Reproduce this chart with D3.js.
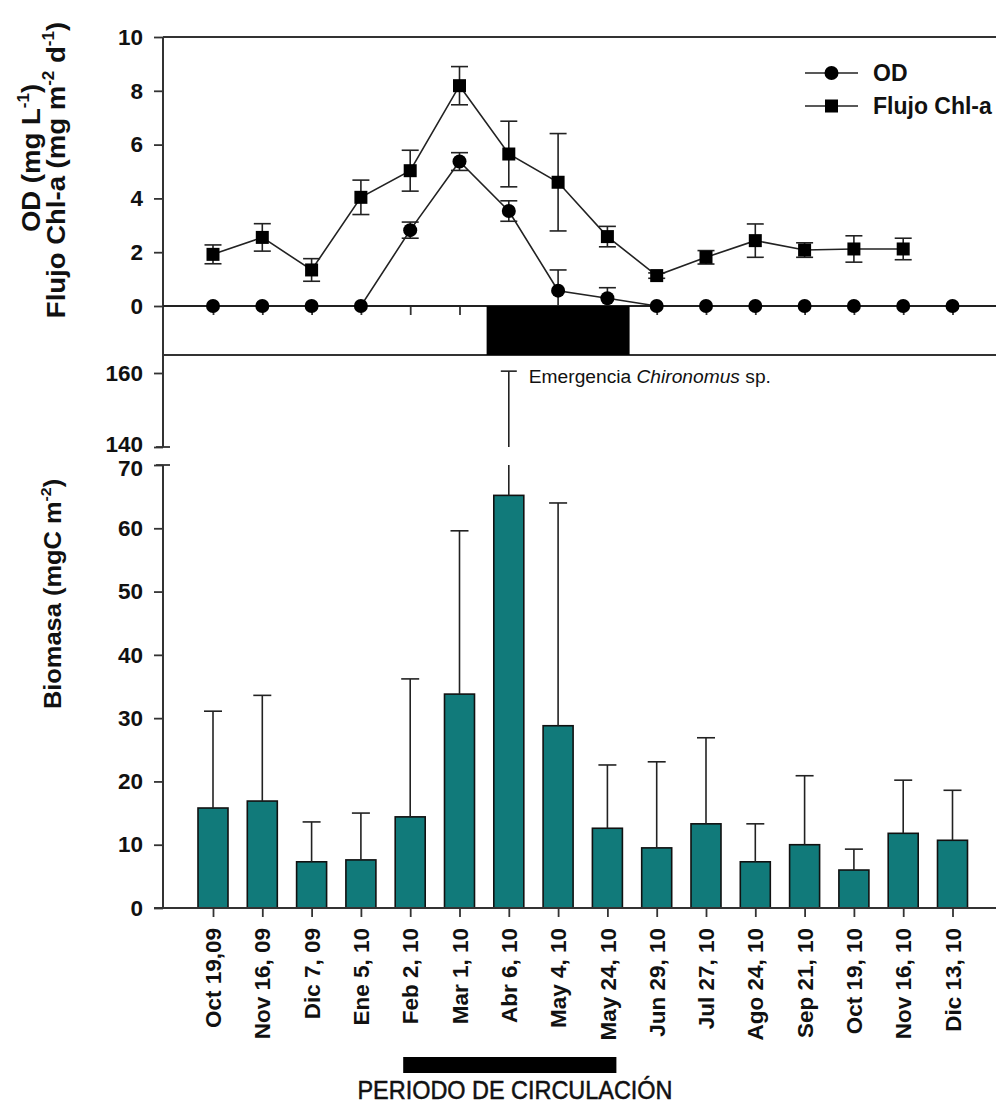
<!DOCTYPE html>
<html>
<head>
<meta charset="utf-8">
<script src="https://cdn.jsdelivr.net/npm/d3@7"></script>
<style>
  html, body { margin: 0; padding: 0; background: #fff; }
  svg { display: block; }
  text { font-family: "Liberation Sans", Arial, Helvetica, sans-serif; fill: #111; }
</style>
</head>
<body>
<svg id="chart" width="996" height="1103"></svg>
<script>
// Sampling dates
const categories = ["Oct 19,09", "Nov 16, 09", "Dic 7, 09", "Ene 5, 10", "Feb 2, 10", "Mar 1, 10",
  "Abr 6, 10", "May 4, 10", "May 24, 10", "Jun 29, 10", "Jul 27, 10", "Ago 24, 10",
  "Sep 21, 10", "Oct 19, 10", "Nov 16, 10", "Dic 13, 10"];

// Dissolved oxygen near the bottom (mg L-1), mean and SD
const odMean = [0, 0, 0, 0, 2.82, 5.37, 3.53, 0.57, 0.29, 0, 0, 0, 0, 0, 0, 0];
const odSD   = [0, 0, 0, 0, 0.30, 0.33, 0.38, 0.77, 0.39, 0, 0, 0, 0, 0, 0, 0];

// Chl-a sedimentation flux (mg m-2 d-1), mean and SD (no sample on the last date)
const chlMean = [1.92, 2.55, 1.34, 4.04, 5.03, 8.19, 5.65, 4.60, 2.58, 1.13, 1.81, 2.43, 2.08, 2.12, 2.12];
const chlSD   = [0.35, 0.51, 0.42, 0.64, 0.76, 0.71, 1.22, 1.81, 0.38, 0.10, 0.25, 0.62, 0.27, 0.49, 0.40];

// Benthic biomass (mgC m-2), mean and SD
const bioMean = [15.8, 16.9, 7.3, 7.6, 14.4, 33.8, 65.2, 28.8, 12.6, 9.5, 13.3, 7.3, 10.0, 6.0, 11.8, 10.7];
const bioSD   = [15.3, 16.7, 6.3, 7.4, 21.8, 25.8, 95.3, 35.2, 10.0, 13.6, 13.6, 6.0, 10.9, 3.3, 8.4, 7.9];

// Axis ticks
const topTicks = [0, 2, 4, 6, 8, 10];
const lowTicks = [0, 10, 20, 30, 40, 50, 60, 70];
const highTicks = [140, 160];

// Anoxic period (position in date index units) and circulation period
const anoxicSpan = [5.55, 8.45];
const circulationSpan = ["Feb 2, 10", "May 24, 10"];

const legendItems = [{ name: "OD", shape: "circle" }, { name: "Flujo Chl-a", shape: "square" }];

const svg = d3.select("#chart");
const W = 996;
const axisX = 163;
const ink = "#222";
const teal = "#117a7a";

// Shared horizontal scale
const x = d3.scalePoint().domain(categories).range([213, 952.5]);
const xi = d3.scaleLinear().domain([0, categories.length - 1]).range(x.range());

// ---------- Top panel ----------
const yT = d3.scaleLinear().domain([0, 10]).range([306, 37]);
const topBottom = 355;

const topG = svg.append("g");

// frame
topG.append("line").attr("x1", axisX).attr("x2", W).attr("y1", yT(10)).attr("y2", yT(10))
  .attr("stroke", "#333").attr("stroke-width", 2);
topG.append("line").attr("x1", axisX).attr("x2", W).attr("y1", topBottom).attr("y2", topBottom)
  .attr("stroke", "#333").attr("stroke-width", 2);

// y axis
const yAxisT = topG.append("g").attr("transform", `translate(${axisX},0)`)
  .call(d3.axisLeft(yT).tickValues(topTicks).tickSize(9).tickPadding(11).tickFormat(d3.format("d")));
yAxisT.select(".domain").remove();
yAxisT.append("line").attr("x1", 0).attr("x2", 0).attr("y1", yT(10)).attr("y2", topBottom)
  .attr("stroke", "#333").attr("stroke-width", 2);

// zero line with date ticks
const xAxisT = topG.append("g").attr("transform", `translate(0,${yT(0)})`)
  .call(d3.axisBottom(x).tickSize(9).tickFormat(""));
xAxisT.select(".domain").remove();
topG.append("line").attr("x1", axisX).attr("x2", W).attr("y1", yT(0)).attr("y2", yT(0))
  .attr("stroke", ink).attr("stroke-width", 1.8);

[yAxisT, xAxisT].forEach(a => {
  a.selectAll(".tick line").attr("stroke", "#333").attr("stroke-width", 1.8);
});
yAxisT.selectAll(".tick text").attr("font-size", 22.5).attr("font-weight", "bold").attr("fill", "#111")
  .attr("font-family", "'Liberation Sans', Arial, sans-serif");

// series lines
const chlPts = chlMean.map((v, i) => ({ x: x(categories[i]), v, sd: chlSD[i] }));
const odPts = odMean.map((v, i) => ({ x: x(categories[i]), v, sd: odSD[i] }));
const line = d3.line().x(d => d.x).y(d => yT(d.v));

topG.append("path").datum(chlPts).attr("d", line).attr("fill", "none").attr("stroke", ink).attr("stroke-width", 1.6);
topG.append("path").datum(odPts).attr("d", line).attr("fill", "none").attr("stroke", ink).attr("stroke-width", 1.6);

// error bars
function errBars(g, pts, cap) {
  const e = g.append("g").attr("stroke", ink).attr("stroke-width", 1.6);
  pts.filter(d => d.sd > 0).forEach(d => {
    e.append("line").attr("x1", d.x).attr("x2", d.x).attr("y1", yT(d.v - d.sd)).attr("y2", yT(d.v + d.sd));
    [d.v - d.sd, d.v + d.sd].forEach(b => {
      e.append("line").attr("x1", d.x - cap / 2).attr("x2", d.x + cap / 2).attr("y1", yT(b)).attr("y2", yT(b));
    });
  });
}
errBars(topG, chlPts, 17);
errBars(topG, odPts, 17);

// anoxic block below the zero line
topG.append("rect")
  .attr("x", xi(anoxicSpan[0])).attr("width", xi(anoxicSpan[1]) - xi(anoxicSpan[0]))
  .attr("y", yT(0)).attr("height", topBottom - yT(0))
  .attr("fill", "#000");

// markers
topG.append("g").selectAll("rect").data(chlPts).join("rect")
  .attr("x", d => d.x - 6.5).attr("y", d => yT(d.v) - 6.5).attr("width", 13).attr("height", 13)
  .attr("fill", "#000");
topG.append("g").selectAll("circle").data(odPts).join("circle")
  .attr("cx", d => d.x).attr("cy", d => yT(d.v)).attr("r", 7).attr("fill", "#000");

// legend
const lg = topG.append("g").attr("transform", "translate(805,73)");
legendItems.forEach((it, i) => {
  const g = lg.append("g").attr("transform", `translate(0,${i * 33})`);
  g.append("line").attr("x1", 0).attr("x2", 53).attr("stroke", ink).attr("stroke-width", 1.6);
  if (it.shape === "circle") g.append("circle").attr("cx", 26.5).attr("r", 7).attr("fill", "#000");
  else g.append("rect").attr("x", 20).attr("y", -6.5).attr("width", 13).attr("height", 13).attr("fill", "#000");
  g.append("text").attr("x", 68).attr("dy", "0.36em").attr("font-size", 23).attr("font-weight", "bold")
    .text(it.name);
});

// title with superscript parts
function supTitle(g, parts, size) {
  const t = g.append("text").attr("text-anchor", "middle").attr("font-size", size).attr("font-weight", "bold");
  let shifted = false;
  parts.forEach(p => {
    const s = t.append("tspan").text(p.t);
    if (p.sup) { s.attr("font-size", size * 0.62).attr("dy", -size * 0.42); shifted = true; }
    else if (shifted) { s.attr("dy", size * 0.42); shifted = false; }
  });
  return t;
}
const tt1 = svg.append("g").attr("transform", "translate(40,158) rotate(-90) scale(1.08,1)");
supTitle(tt1, [{ t: "OD (mg L" }, { t: "-1", sup: true }, { t: ")" }], 25.5);
const tt2 = svg.append("g").attr("transform", "translate(65,170) rotate(-90) scale(1.08,1)");
supTitle(tt2, [{ t: "Flujo Chl-a (mg m" }, { t: "-2", sup: true }, { t: " d" }, { t: "-1", sup: true }, { t: ")" }], 25.5);

// ---------- Bottom panel (broken axis) ----------
const yL = d3.scaleLinear().domain([0, 70]).range([908, 465]);
const yH = d3.scaleLinear().domain([140, 160]).range([447, 373]);
const base = yL(0);

const botG = svg.append("g");

// y axis segments
const yAxisL = botG.append("g").attr("transform", `translate(${axisX},0)`)
  .call(d3.axisLeft(yL).tickValues(lowTicks).tickSize(9).tickPadding(11).tickFormat(d3.format("d")));
const yAxisH = botG.append("g").attr("transform", `translate(${axisX},0)`)
  .call(d3.axisLeft(yH).tickValues(highTicks).tickSize(9).tickPadding(11).tickFormat(d3.format("d")));
[yAxisL, yAxisH].forEach(a => {
  a.select(".domain").remove();
  a.selectAll(".tick line").attr("stroke", "#333").attr("stroke-width", 1.8);
  a.selectAll(".tick text").attr("font-size", 22.5).attr("font-weight", "bold").attr("fill", "#111")
    .attr("font-family", "'Liberation Sans', Arial, sans-serif");
});
// labels on either side of the break sit a little apart
yAxisH.selectAll(".tick text").filter(d => d === 140).attr("y", -3);
yAxisL.selectAll(".tick text").filter(d => d === 70).attr("y", 3);

botG.append("line").attr("x1", axisX).attr("x2", axisX).attr("y1", yL(70)).attr("y2", base)
  .attr("stroke", "#333").attr("stroke-width", 2);
botG.append("line").attr("x1", axisX).attr("x2", axisX).attr("y1", topBottom).attr("y2", yH(140))
  .attr("stroke", "#333").attr("stroke-width", 2);
// break marks crossing the axis
[yH(140), yL(70)].forEach(y => {
  botG.append("line").attr("x1", axisX - 7).attr("x2", axisX + 7).attr("y1", y).attr("y2", y)
    .attr("stroke", "#333").attr("stroke-width", 1.8);
});

// bars
const barW = 30;
const bars = bioMean.map((v, i) => ({ x: x(categories[i]), v, sd: bioSD[i] }));
botG.append("g").selectAll("rect").data(bars).join("rect")
  .attr("x", d => d.x - barW / 2).attr("y", d => yL(d.v))
  .attr("width", barW).attr("height", d => base - yL(d.v))
  .attr("fill", teal).attr("stroke", "#111").attr("stroke-width", 1.6);

// upper error bars, split across the break when needed
const eb = botG.append("g").attr("stroke", ink).attr("stroke-width", 1.6);
bars.forEach(d => {
  const hi = d.v + d.sd;
  if (hi <= 70) {
    eb.append("line").attr("x1", d.x).attr("x2", d.x).attr("y1", yL(d.v)).attr("y2", yL(hi));
    eb.append("line").attr("x1", d.x - 9).attr("x2", d.x + 9).attr("y1", yL(hi)).attr("y2", yL(hi));
  } else {
    eb.append("line").attr("x1", d.x).attr("x2", d.x).attr("y1", yL(d.v)).attr("y2", yL(70));
    eb.append("line").attr("x1", d.x).attr("x2", d.x).attr("y1", yH(140)).attr("y2", yH(hi));
    eb.append("line").attr("x1", d.x - 8).attr("x2", d.x + 8).attr("y1", yH(hi)).attr("y2", yH(hi));
  }
});

// annotation on the highest bar
const peak = bars[d3.maxIndex(bioMean)];
const ann = botG.append("text").attr("x", peak.x + 20).attr("y", yH(peak.v + peak.sd) + 12)
  .attr("font-size", 19.2).attr("fill", "#111");
ann.append("tspan").text("Emergencia ");
ann.append("tspan").attr("font-style", "italic").text("Chironomus");
ann.append("tspan").text(" sp.");

// x axis with rotated date labels
const xAxisB = botG.append("g").attr("transform", `translate(0,${base})`)
  .call(d3.axisBottom(x).tickSize(9).tickFormat(""));
xAxisB.select(".domain").remove();
xAxisB.selectAll(".tick line").attr("stroke", "#333").attr("stroke-width", 1.8);
botG.append("line").attr("x1", axisX - 9).attr("x2", W).attr("y1", base).attr("y2", base)
  .attr("stroke", "#333").attr("stroke-width", 2);
botG.append("g").selectAll("text").data(categories).join("text")
  .attr("transform", d => `translate(${x(d)},${base + 20}) rotate(-90)`)
  .attr("text-anchor", "end").attr("dy", "0.36em")
  .attr("font-size", 22.5).attr("font-weight", "bold")
  .text(d => d);

// bottom y title
const bt = svg.append("g").attr("transform", "translate(61,594) rotate(-90) scale(1.06,1)");
supTitle(bt, [{ t: "Biomasa (mgC m" }, { t: "-2", sup: true }, { t: ")" }], 24);

// circulation period marker
const c0 = x(circulationSpan[0]) - 7, c1 = x(circulationSpan[1]) + 9;
svg.append("rect").attr("x", c0).attr("y", 1057).attr("width", c1 - c0).attr("height", 16).attr("fill", "#000");
svg.append("text").attr("x", 515).attr("y", 1099).attr("text-anchor", "middle")
  .attr("font-size", 25).attr("textLength", 315).attr("lengthAdjust", "spacingAndGlyphs")
  .attr("stroke", "#111").attr("stroke-width", 0.5)
  .text("PERIODO DE CIRCULACIÓN");
</script>
</body>
</html>
